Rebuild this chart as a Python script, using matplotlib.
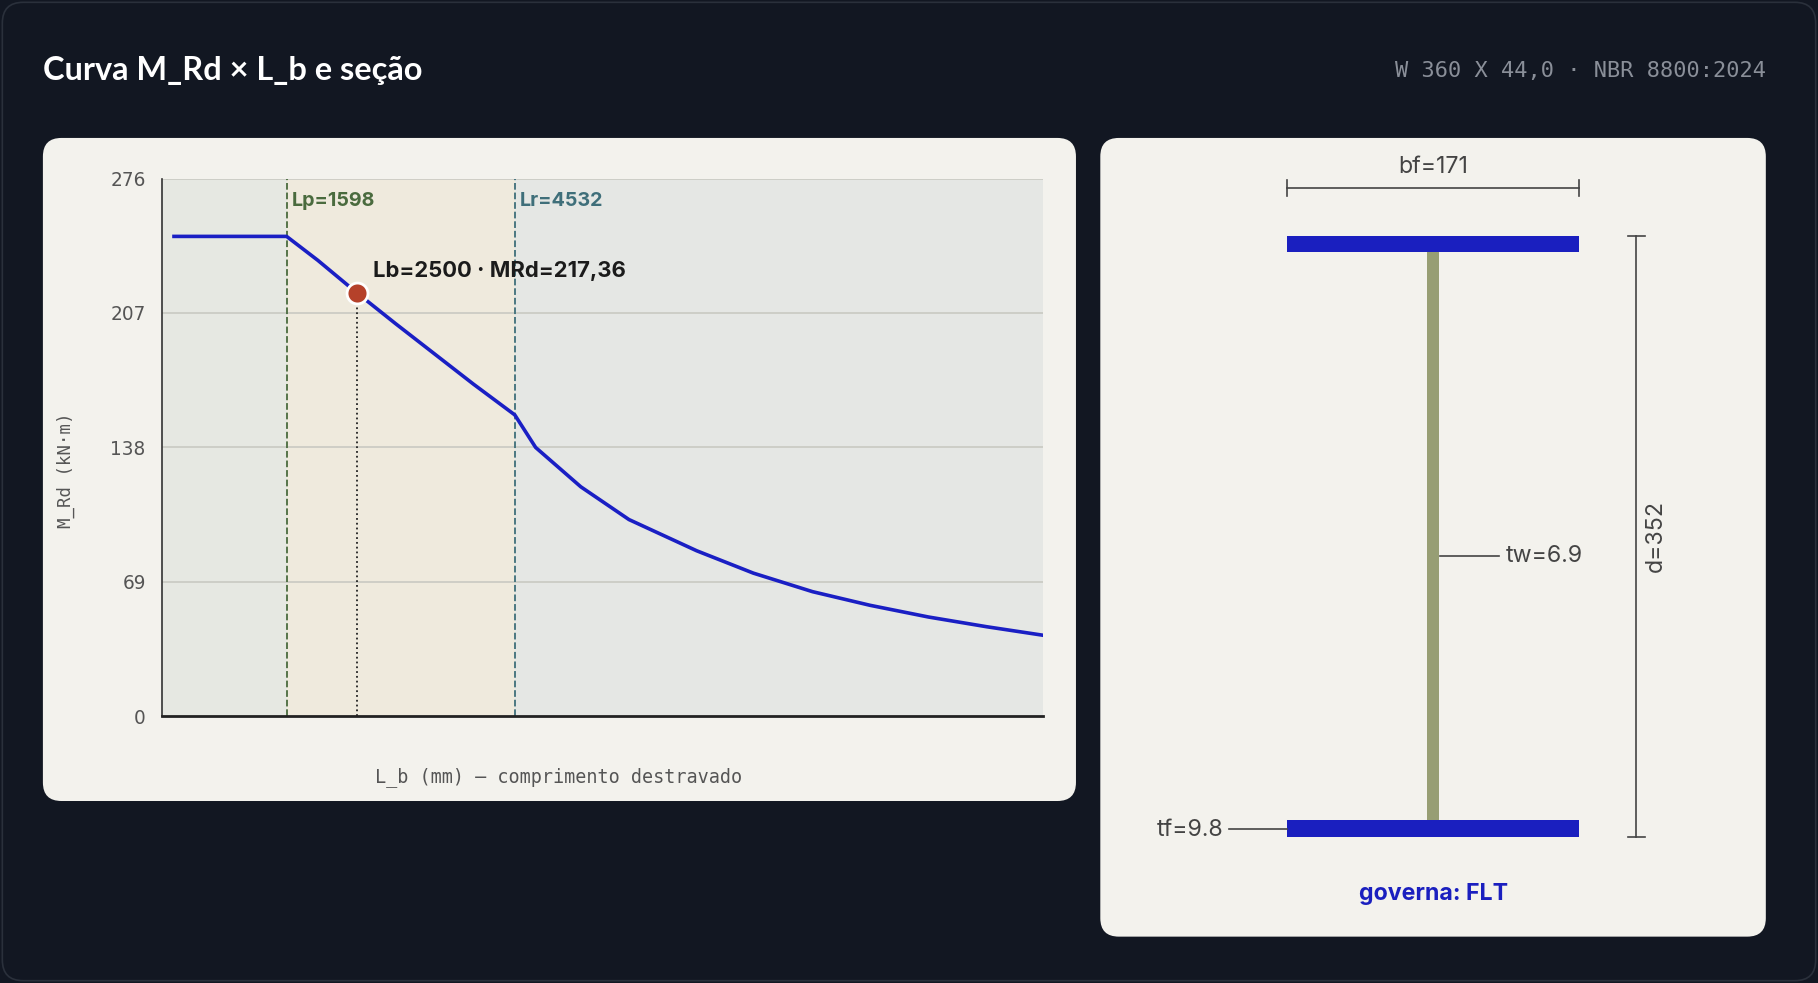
import matplotlib.pyplot as plt
import numpy as np
from matplotlib.patches import FancyBboxPatch, Rectangle

# curve data (Lb in mm, MRd in kN*m)
lb = [150, 1598, 2000, 2500, 3000, 3500, 4000, 4532, 4800, 5381, 6000, 6870, 7600, 8360, 9100, 9850, 10600, 11330]
mrd = [246.3, 246.3, 234.0, 217.4, 201.5, 186.0, 170.5, 154.7, 138.0, 117.8, 101.0, 85.0, 73.5, 64.0, 57.0, 51.0, 46.0, 41.6]
lp, lr = 1598, 4532
lb_sel, mrd_sel = 2500, 217.36
yticks = [0, 69, 138, 207, 276]

# section data (mm)
bf, d, tw, tf = 171, 352, 6.9, 9.8

W, H = 1568, 848
fig = plt.figure(figsize=(18.18, 9.83), dpi=100)
fig.patch.set_facecolor('#121722')
S = 1818 / W * 72 / 100  # ref px -> pt


def fs(px):
    return px * S


bg = fig.add_axes([0, 0, 1, 1])
bg.set_xlim(0, W)
bg.set_ylim(H, 0)
bg.axis('off')
bg.add_patch(FancyBboxPatch((2, 2), W - 4, H - 4, boxstyle='round,pad=0,rounding_size=18',
                            fc='#121722', ec='#2a303b', lw=1.2))
bg.add_patch(FancyBboxPatch((37, 119), 891, 572, boxstyle='round,pad=0,rounding_size=16',
                            fc='#f3f2ed', ec='none'))
bg.add_patch(FancyBboxPatch((949, 119), 574, 689, boxstyle='round,pad=0,rounding_size=16',
                            fc='#f3f2ed', ec='none'))
bg.text(37, 61, 'Curva M_Rd × L_b e seção', color='white', fontsize=fs(28), fontweight='bold',
        family='Lato', va='center')
bg.text(1523, 61, 'W 360 X 44,0 · NBR 8800:2024', color='#8a8f99', fontsize=fs(19),
        family='DejaVu Sans Mono', va='center', ha='right')

# section drawing in ref px
sc = 252 / bf
cx, yb = 1236, 722
ytop = yb - d * sc
fl = '#1a1fbf'
bg.add_patch(Rectangle((cx - bf * sc / 2, ytop), bf * sc, tf * sc, fc=fl, ec='none'))
bg.add_patch(Rectangle((cx - bf * sc / 2, yb - tf * sc), bf * sc, tf * sc, fc=fl, ec='none'))
bg.add_patch(Rectangle((cx - tw * sc / 2, ytop + tf * sc), tw * sc, (d - 2 * tf) * sc, fc='#979e74', ec='none'))
dc = '#444444'
x0, x1 = cx - bf * sc / 2, cx + bf * sc / 2
bg.plot([x0, x1], [162, 162], color=dc, lw=1.2)
bg.plot([x0, x0], [155, 169], color=dc, lw=1.2)
bg.plot([x1, x1], [155, 169], color=dc, lw=1.2)
bg.text(cx, 144, f'bf={bf}', ha='center', va='center', fontsize=fs(20), color='#444', family='Inter')
bg.plot([1411, 1411], [ytop, yb], color=dc, lw=1.2)
bg.plot([1404, 1419], [ytop, ytop], color=dc, lw=1.2)
bg.plot([1404, 1419], [yb, yb], color=dc, lw=1.2)
bg.text(1428, (ytop + yb) / 2, f'd={d}', rotation=90, ha='center', va='center', fontsize=fs(20),
        color='#444', family='Inter')
bg.plot([cx + 6, 1293], [480, 480], color=dc, lw=1.2)
bg.text(1299, 480, f'tw={tw}', ha='left', va='center', fontsize=fs(20), color='#444', family='Inter')
bg.plot([1060, x0], [715, 715], color=dc, lw=1.2)
bg.text(1055, 716, f'tf={tf}', ha='right', va='center', fontsize=fs(20), color='#444', family='Inter')
bg.text(cx, 771, 'governa: FLT', ha='center', va='center', fontsize=fs(20), color=fl,
        fontweight='bold', family='Inter')

# chart
ax = fig.add_axes([140 / W, 1 - 618 / H, 760 / W, 464 / H])
ax.patch.set_alpha(0)
xmax = 11330
ax.set_xlim(0, xmax)
ax.set_ylim(0, 276)
ax.axvspan(0, lp, color='#e6e8e2', zorder=0)
ax.axvspan(lp, lr, color='#efeadd', zorder=0)
ax.axvspan(lr, xmax, color='#e5e7e4', zorder=0)
for t in yticks[1:]:
    ax.axhline(t, color='#c9c9c2', lw=1.2, zorder=1)
ax.axvline(lp, color='#4a6b3e', ls='--', lw=1.3, zorder=2)
ax.axvline(lr, color='#3f6f7a', ls='--', lw=1.3, zorder=2)
ax.text(lp + 60, 269, f'Lp={lp}', color='#4a6b3e', fontsize=fs(17), fontweight='bold', va='top', family='Inter')
ax.text(lr + 60, 269, f'Lr={lr}', color='#3f6f7a', fontsize=fs(17), fontweight='bold', va='top', family='Inter')
ax.plot([lb_sel, lb_sel], [0, mrd_sel], color='#222', ls=':', lw=1.3, zorder=2)
ax.plot(lb, mrd, color='#1a1fc4', lw=2.6, zorder=3)
ax.scatter([lb_sel], [mrd_sel], s=(18 * S) ** 2, color='#b5412a', edgecolor='white', lw=2, zorder=4)
ax.text(lb_sel + 210, mrd_sel + 11, f'Lb={lb_sel} · MRd={mrd_sel:.2f}'.replace('.', ','),
        fontsize=fs(19), fontweight='bold', color='#1b1b1b', va='center', family='Inter')
ax.set_yticks(yticks)
ax.set_xticks([])
ax.tick_params(axis='y', length=0, labelsize=fs(16), labelcolor='#555', pad=12)
for s in ['top', 'right']:
    ax.spines[s].set_visible(False)
ax.spines['left'].set_color('#333')
ax.spines['left'].set_linewidth(1.2)
ax.spines['bottom'].set_color('#222')
ax.spines['bottom'].set_linewidth(2)
bg.text(57, 406, 'M_Rd (kN·m)', rotation=90, ha='center', va='center', fontsize=fs(15),
        color='#555', family='DejaVu Sans Mono')
bg.text(482, 670, 'L_b (mm) — comprimento destravado', ha='center', va='center', fontsize=fs(16),
        color='#555', family='DejaVu Sans Mono')

fig.savefig('out.png', dpi=100, facecolor=fig.get_facecolor())
